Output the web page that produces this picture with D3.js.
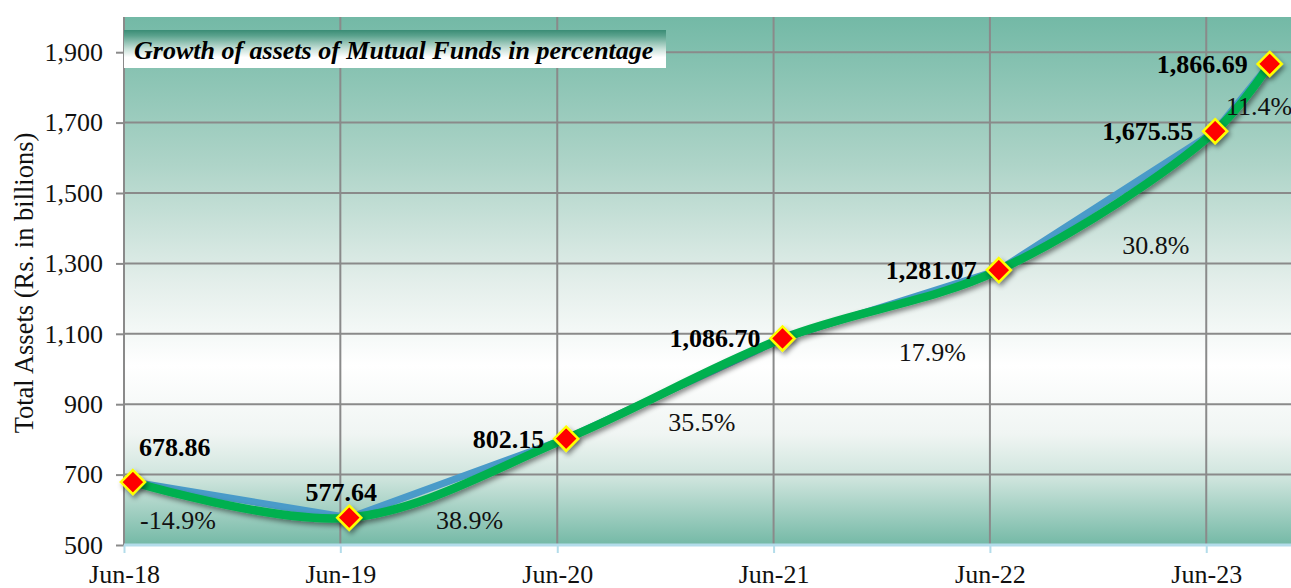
<!DOCTYPE html>
<html>
<head>
<meta charset="utf-8">
<script src="https://cdn.jsdelivr.net/npm/d3@7"></script>
<style>
  html, body { margin: 0; padding: 0; background: #fff; }
  svg { display: block; font-family: "Liberation Serif", "Times New Roman", serif; }
</style>
</head>
<body>
<div id="chart"></div>
<script>
// Data
const dates = ["2018-06-30", "2019-06-30", "2020-06-30", "2021-06-30", "2022-06-30", "2023-06-30", "2023-09-30"];
const assets = [678.86, 577.64, 802.15, 1086.70, 1281.07, 1675.55, 1866.69];
const growth = ["-14.9%", "38.9%", "35.5%", "17.9%", "30.8%", "11.4%"];
// where each growth label sits (date, value)
const growthAtDate = ["2018-09-14", "2020-01-19", "2021-02-14", "2022-03-10", "2023-03-22", "2023-09-12"];
const growthAtValue = [571, 571, 850, 1048, 1352, 1747];
// where each value label sits relative to its marker
const labelSide = ["aboveRight", "above", "left", "left", "left", "left", "left"];
const tickDates = ["2018-06-15", "2019-06-15", "2020-06-15", "2021-06-15", "2022-06-15", "2023-06-15"];
const yTicks = [500, 700, 900, 1100, 1300, 1500, 1700, 1900];

const width = 1291, height = 588;
const plotLeft = 124, plotRight = 1291, plotTop = 17, plotBottom = 545;

const parse = d3.timeParse("%Y-%m-%d");
const points = dates.map((d, i) => ({ date: parse(d), value: assets[i] }));

const svg = d3.select("#chart").append("svg")
  .attr("width", width)
  .attr("height", height);

const x = d3.scaleTime()
  .domain([parse("2018-06-15"), parse("2023-11-05")])
  .range([plotLeft, plotRight]);

const y = d3.scaleLinear()
  .domain([500, 2000])
  .range([plotBottom, plotTop]);

const defs = svg.append("defs");

const bg = defs.append("linearGradient")
  .attr("id", "bg").attr("x1", 0).attr("y1", 0).attr("x2", 0).attr("y2", 1);
[[0, "#73b9a6"], [0.28, "#aed4c8"], [0.5, "#e3eeea"], [0.66, "#ffffff"],
 [0.79, "#f0f5f3"], [0.875, "#cde4dc"], [1, "#74b9a6"]]
  .forEach(([o, c]) => bg.append("stop").attr("offset", o).attr("stop-color", c));

const tg = defs.append("linearGradient")
  .attr("id", "titlebg").attr("x1", 0).attr("y1", 0).attr("x2", 0).attr("y2", 1);
[[0, "#3a8c75"], [0.15, "#5aa28d"], [0.5, "#c8e1d9"], [0.72, "#ffffff"], [1, "#ffffff"]]
  .forEach(([o, c]) => tg.append("stop").attr("offset", o).attr("stop-color", c));

const shadow = defs.append("filter").attr("id", "shadow")
  .attr("x", "-50%").attr("y", "-50%").attr("width", "200%").attr("height", "200%");
shadow.append("feDropShadow")
  .attr("dx", 2).attr("dy", 3).attr("stdDeviation", 2.5)
  .attr("flood-color", "#000").attr("flood-opacity", 0.45);

// Plot area
svg.append("rect")
  .attr("x", plotLeft).attr("y", plotTop)
  .attr("width", plotRight - plotLeft).attr("height", plotBottom - plotTop)
  .attr("fill", "url(#bg)");

// Gridlines
svg.append("g")
  .selectAll("line")
  .data(yTicks.slice(1))
  .enter().append("line")
  .attr("x1", plotLeft).attr("x2", plotRight)
  .attr("y1", d => y(d)).attr("y2", d => y(d))
  .attr("stroke", "#8a8a8a").attr("stroke-width", 2);

svg.append("g")
  .selectAll("line")
  .data(tickDates.map(parse))
  .enter().append("line")
  .attr("x1", d => x(d)).attr("x2", d => x(d))
  .attr("y1", plotTop).attr("y2", plotBottom)
  .attr("stroke", "#8a8a8a").attr("stroke-width", 2);

// Y axis
const yAxis = svg.append("g")
  .attr("transform", `translate(${plotLeft},0)`)
  .call(d3.axisLeft(y).tickValues(yTicks).tickFormat(d3.format(",")).tickSize(8).tickPadding(13));
yAxis.select(".domain").attr("stroke", "#8a8a8a").attr("stroke-width", 2)
  .attr("d", `M0,${plotTop}V${plotBottom}`);
yAxis.selectAll(".tick line").attr("stroke", "#8a8a8a").attr("stroke-width", 2);
yAxis.selectAll(".tick text").attr("font-size", 26).attr("fill", "#111")
  .attr("font-family", "Liberation Serif");

// X axis
const xAxis = svg.append("g")
  .attr("transform", `translate(0,${plotBottom})`)
  .call(d3.axisBottom(x).tickValues(tickDates.map(parse))
    .tickFormat(d3.timeFormat("%b-%y")).tickSize(8).tickPadding(12));
xAxis.select(".domain").attr("stroke", "#b3dcea").attr("stroke-width", 3)
  .attr("d", `M${plotLeft},0H${plotRight}`);
xAxis.selectAll(".tick line").attr("stroke", "#b3dcea").attr("stroke-width", 2);
xAxis.selectAll(".tick text").attr("font-size", 26).attr("fill", "#111")
  .attr("font-family", "Liberation Serif");

// Axis title
svg.append("text")
  .attr("transform", "translate(33,283) rotate(-90)")
  .attr("text-anchor", "middle")
  .attr("font-size", 26.5)
  .attr("fill", "#111")
  .text("Total Assets  (Rs. in billions)");

// Lines
const straight = d3.line()
  .x(d => x(d.date)).y(d => y(d.value));

const smooth = d3.line()
  .x(d => x(d.date)).y(d => y(d.value))
  .curve(d3.curveCatmullRom.alpha(0.5));

svg.append("path")
  .datum(points)
  .attr("d", straight)
  .attr("fill", "none")
  .attr("stroke", "#4a9bc9")
  .attr("stroke-width", 7)
  .attr("stroke-linejoin", "round");

svg.append("path")
  .datum(points)
  .attr("d", smooth)
  .attr("fill", "none")
  .attr("stroke", "#00b050")
  .attr("stroke-width", 8.5)
  .attr("stroke-linecap", "round")
  .attr("filter", "url(#shadow)");

// Markers
const r = 12;
svg.append("g")
  .selectAll("path")
  .data(points)
  .enter().append("path")
  .attr("d", d => {
    const cx = x(d.date), cy = y(d.value);
    return `M${cx},${cy - r}L${cx + r},${cy}L${cx},${cy + r}L${cx - r},${cy}Z`;
  })
  .attr("fill", "#ff0000")
  .attr("stroke", "#ffff00")
  .attr("stroke-width", 2.5)
  .attr("filter", "url(#shadow)");

// Value labels
svg.append("g")
  .selectAll("text")
  .data(points)
  .enter().append("text")
  .attr("x", (d, i) => {
    const cx = x(d.date);
    if (labelSide[i] === "aboveRight") return cx + 6;
    if (labelSide[i] === "above") return cx - 8;
    return cx - 22;
  })
  .attr("y", (d, i) => {
    const cy = y(d.value);
    if (labelSide[i] === "aboveRight") return cy - 26;
    if (labelSide[i] === "above") return cy - 17;
    return cy + 9;
  })
  .attr("text-anchor", (d, i) => labelSide[i] === "aboveRight" ? "start" : labelSide[i] === "above" ? "middle" : "end")
  .attr("font-size", 26)
  .attr("font-weight", "bold")
  .attr("fill", "#000")
  .text(d => d3.format(",.2f")(d.value));

// Growth labels
svg.append("g")
  .selectAll("text")
  .data(growth)
  .enter().append("text")
  .attr("x", (d, i) => x(parse(growthAtDate[i])))
  .attr("y", (d, i) => y(growthAtValue[i]))
  .attr("dy", "0.35em")
  .attr("text-anchor", "middle")
  .attr("font-size", 26)
  .attr("fill", "#111")
  .text(d => d);

// Title box
const title = svg.append("g");
title.append("rect")
  .attr("x", plotLeft).attr("y", 30)
  .attr("width", 542).attr("height", 38)
  .attr("fill", "url(#titlebg)");
title.append("text")
  .attr("x", plotLeft + 10).attr("y", 59)
  .attr("font-size", 26)
  .attr("font-weight", "bold")
  .attr("font-style", "italic")
  .attr("fill", "#000")
  .text("Growth of assets of Mutual Funds in percentage");
</script>
</body>
</html>
